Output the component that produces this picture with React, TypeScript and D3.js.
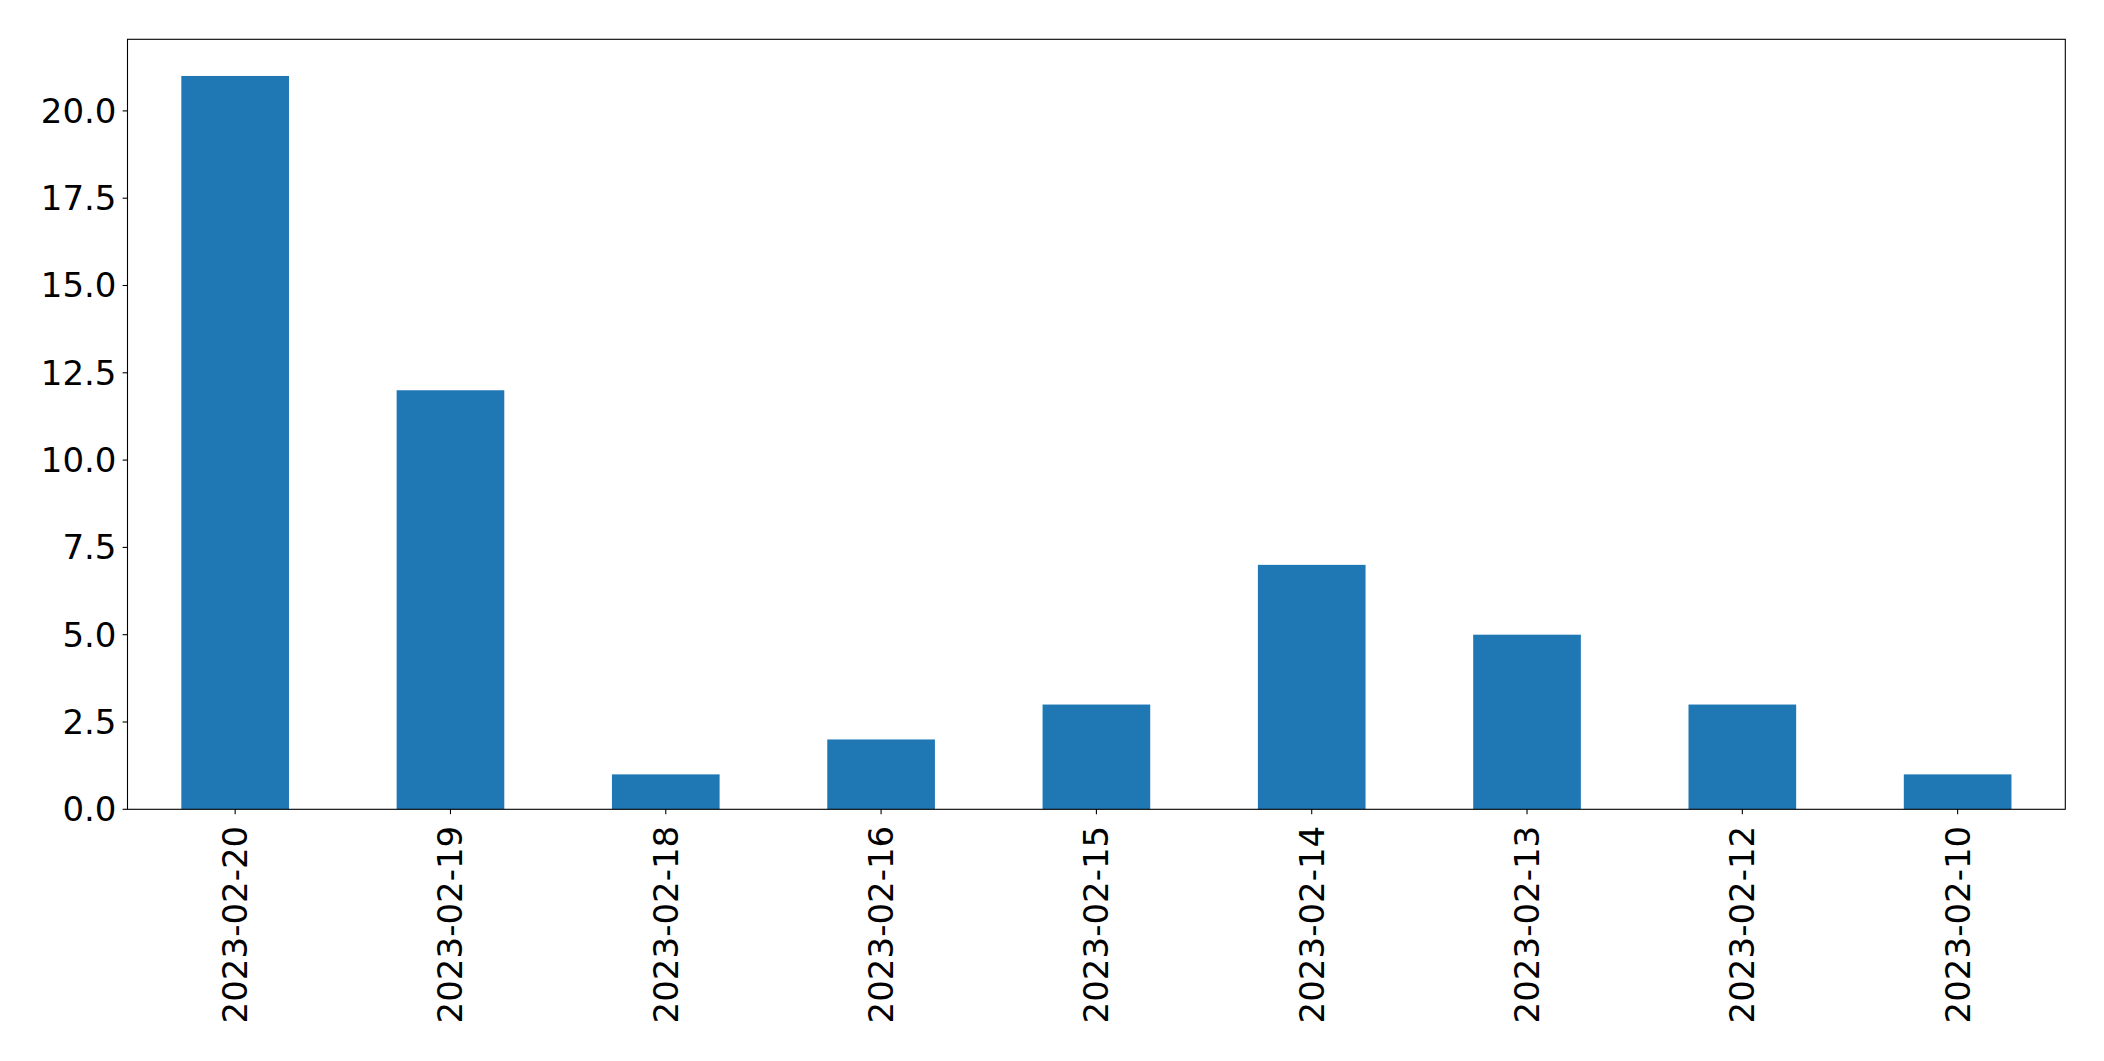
import React from "react";
import * as d3 from "d3";

const categories = ["2023-02-20", "2023-02-19", "2023-02-18", "2023-02-16", "2023-02-15", "2023-02-14", "2023-02-13", "2023-02-12", "2023-02-10"];
const values = [21, 12, 1, 2, 3, 7, 5, 3, 1];
const yTicks = [0, 2.5, 5, 7.5, 10, 12.5, 15, 17.5, 20];

const W = 2104;
const H = 1061;
const left = 127.5;
const right = 2065.3;
const top = 39.3;
const bottom = 809.3;
const FONT = "'DejaVu Sans', sans-serif";
const FS = 34;

export default function App() {
  const x = d3.scaleBand<string>().domain(categories).range([left, right]).paddingInner(0.5).paddingOuter(0.25);
  const y = d3.scaleLinear().domain([0, 22.05]).range([bottom, top]);
  return (
    <svg width={W} height={H} style={{ position: "absolute", left: 0, top: 0, background: "#fff" }}>
      <rect x={0} y={0} width={W} height={H} fill="#fff" />
      {categories.map((c, i) => (
        <rect key={c} x={x(c)} y={y(values[i])} width={x.bandwidth()} height={y(0) - y(values[i])} fill="#1f77b4" />
      ))}
      <rect x={left} y={top} width={right - left} height={bottom - top} fill="none" stroke="#000" strokeWidth={1.1} />
      {yTicks.map((t) => (
        <g key={t}>
          <line x1={left - 4.9} x2={left} y1={y(t)} y2={y(t)} stroke="#000" strokeWidth={1.1} />
          <text x={left - 11} y={y(t)} textAnchor="end" dominantBaseline="central" fontFamily={FONT} fontSize={FS} fill="#000">
            {t.toFixed(1)}
          </text>
        </g>
      ))}
      {categories.map((c) => {
        const cx = (x(c) as number) + x.bandwidth() / 2;
        const ty = bottom + 16.5;
        return (
          <g key={c}>
            <line x1={cx} x2={cx} y1={bottom} y2={bottom + 4.9} stroke="#000" strokeWidth={1.1} />
            <text
              transform={`translate(${cx},${ty}) rotate(-90)`}
              textAnchor="end"
              dominantBaseline="central"
              fontFamily={FONT}
              fontSize={FS}
              fill="#000"
            >
              {c}
            </text>
          </g>
        );
      })}
    </svg>
  );
}
